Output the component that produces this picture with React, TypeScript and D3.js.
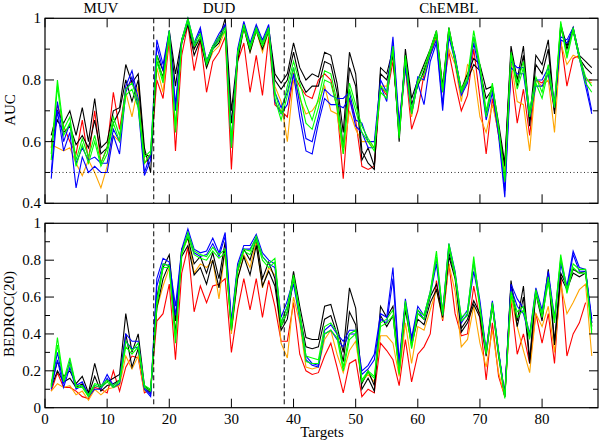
import React from 'react';
import * as d3 from 'd3';

// Target indices (x categories)
const targets = d3.range(1, 89);

// ---- AUC (top panel) ----
const aucBlackA = [0.62,0.70,0.66,0.70,0.62,0.71,0.60,0.74,0.58,0.60,0.70,0.71,0.85,0.79,0.82,0.58,0.50,
0.88,0.83,0.96,0.82,0.93,0.99,0.90,0.94,0.86,0.91,0.93,1.00,0.70,0.88,0.98,0.90,0.97,0.92,0.97,0.82,0.79,
0.82,0.92,0.84,0.80,0.82,0.81,0.89,0.88,0.79,0.63,0.89,0.82,0.57,0.53,0.51,0.84,0.82,0.90,0.60,0.90,0.74,0.80,
0.85,0.90,0.96,0.78,0.97,0.87,0.77,0.82,0.87,0.85,0.77,0.78,0.66,0.53,0.91,0.80,0.91,0.67,0.88,0.85,0.93,0.70,0.98,0.91,0.97,0.88,0.86,0.84];
const aucBlackB = [0.60,0.67,0.63,0.65,0.59,0.62,0.58,0.67,0.56,0.58,0.66,0.70,0.80,0.73,0.80,0.56,0.55,
0.86,0.81,0.95,0.78,0.92,0.98,0.88,0.93,0.84,0.90,0.92,0.98,0.66,0.86,0.97,0.89,0.96,0.90,0.96,0.80,0.77,
0.80,0.89,0.80,0.76,0.78,0.78,0.86,0.85,0.76,0.58,0.84,0.78,0.54,0.58,0.52,0.82,0.80,0.88,0.62,0.88,0.72,0.78,
0.83,0.89,0.95,0.77,0.96,0.86,0.76,0.80,0.85,0.83,0.74,0.77,0.64,0.52,0.89,0.78,0.88,0.65,0.85,0.82,0.90,0.69,0.97,0.90,0.96,0.87,0.84,0.82];
const aucBlueA = [0.50,0.73,0.60,0.66,0.53,0.58,0.54,0.55,0.53,0.53,0.64,0.60,0.78,0.83,0.74,0.50,0.56,
0.93,0.85,0.96,0.72,0.93,1.00,0.92,0.97,0.86,0.91,0.95,0.98,0.60,0.90,0.99,0.92,0.98,0.93,0.98,0.76,0.71,
0.76,0.84,0.72,0.61,0.60,0.68,0.77,0.75,0.74,0.74,0.76,0.67,0.66,0.60,0.60,0.80,0.76,0.94,0.66,0.86,0.70,0.81,
0.80,0.88,0.93,0.72,0.95,0.88,0.76,0.80,0.94,0.84,0.69,0.78,0.64,0.44,0.86,0.84,0.84,0.70,0.80,0.80,0.84,0.73,0.94,0.93,0.97,0.88,0.80,0.70];
const aucBlueB = [0.48,0.70,0.57,0.63,0.45,0.55,0.50,0.52,0.50,0.50,0.62,0.56,0.76,0.81,0.71,0.49,0.54,
0.91,0.83,0.95,0.70,0.92,0.99,0.91,0.96,0.85,0.90,0.94,0.97,0.58,0.89,0.98,0.91,0.97,0.92,0.97,0.73,0.69,
0.72,0.82,0.68,0.57,0.56,0.66,0.74,0.72,0.72,0.71,0.74,0.65,0.63,0.58,0.58,0.78,0.73,0.92,0.64,0.84,0.69,0.79,
0.72,0.86,0.92,0.70,0.94,0.86,0.75,0.79,0.92,0.82,0.67,0.76,0.62,0.42,0.84,0.82,0.82,0.68,0.78,0.78,0.82,0.71,0.93,0.92,0.96,0.87,0.78,0.69];
const aucGreenA = [0.56,0.80,0.64,0.68,0.54,0.61,0.55,0.62,0.53,0.58,0.68,0.62,0.77,0.79,0.73,0.55,0.57,
0.88,0.80,0.96,0.65,0.93,1.00,0.92,0.95,0.86,0.91,0.94,0.97,0.60,0.89,0.98,0.91,0.97,0.92,0.97,0.76,0.69,
0.78,0.86,0.79,0.72,0.67,0.74,0.83,0.82,0.73,0.58,0.79,0.72,0.65,0.61,0.58,0.78,0.76,0.91,0.62,0.88,0.70,0.80,
0.84,0.90,0.96,0.77,0.97,0.87,0.77,0.81,0.96,0.85,0.70,0.79,0.65,0.48,0.89,0.79,0.86,0.70,0.81,0.76,0.85,0.72,0.99,0.88,0.97,0.88,0.81,0.78];
const aucGreenB = [0.54,0.78,0.62,0.66,0.52,0.59,0.53,0.60,0.52,0.56,0.66,0.60,0.75,0.77,0.71,0.53,0.56,
0.86,0.79,0.95,0.63,0.92,0.99,0.91,0.94,0.85,0.90,0.93,0.96,0.58,0.88,0.97,0.90,0.96,0.91,0.96,0.74,0.67,
0.75,0.84,0.75,0.66,0.64,0.71,0.80,0.79,0.71,0.56,0.77,0.70,0.63,0.60,0.57,0.76,0.74,0.90,0.61,0.87,0.69,0.79,
0.82,0.89,0.95,0.76,0.96,0.86,0.76,0.80,0.94,0.84,0.68,0.78,0.64,0.47,0.88,0.77,0.84,0.68,0.79,0.74,0.83,0.71,0.98,0.87,0.96,0.87,0.79,0.76];
const aucOrange = [0.59,0.58,0.57,0.58,0.53,0.49,0.54,0.50,0.45,0.52,0.62,0.60,0.76,0.68,0.78,0.53,0.56,
0.84,0.76,0.95,0.64,0.92,0.99,0.90,0.94,0.84,0.89,0.91,0.96,0.58,0.87,0.97,0.89,0.96,0.89,0.96,0.78,0.73,
0.60,0.80,0.74,0.69,0.70,0.73,0.78,0.70,0.69,0.56,0.70,0.64,0.60,0.60,0.58,0.78,0.78,0.88,0.63,0.84,0.68,0.80,
0.80,0.89,0.94,0.77,0.90,0.85,0.73,0.85,0.83,0.68,0.63,0.72,0.63,0.50,0.86,0.73,0.72,0.57,0.80,0.78,0.80,0.63,0.92,0.85,0.88,0.87,0.80,0.79];
const aucRed = [0.58,0.72,0.65,0.60,0.56,0.67,0.54,0.70,0.53,0.58,0.76,0.64,0.77,0.80,0.73,0.53,0.55,
0.80,0.74,0.93,0.57,0.88,0.98,0.83,0.93,0.76,0.86,0.89,0.94,0.51,0.86,0.92,0.76,0.88,0.75,0.94,0.72,0.70,
0.68,0.82,0.78,0.75,0.74,0.80,0.82,0.80,0.71,0.48,0.74,0.67,0.52,0.51,0.52,0.78,0.75,0.86,0.66,0.84,0.64,0.70,
0.82,0.88,0.94,0.76,0.89,0.79,0.70,0.75,0.90,0.74,0.56,0.74,0.62,0.50,0.83,0.66,0.77,0.62,0.80,0.79,0.82,0.70,0.93,0.78,0.87,0.88,0.80,0.80];

// ---- BEDROC(20) (bottom panel) ----
const bedBlackA = [0.13,0.25,0.17,0.20,0.13,0.17,0.08,0.24,0.11,0.14,0.16,0.18,0.51,0.30,0.40,0.12,0.09,
0.60,0.76,0.83,0.47,0.86,0.92,0.78,0.82,0.73,0.84,0.70,0.90,0.45,0.74,0.86,0.80,0.92,0.70,0.79,0.70,0.44,
0.52,0.74,0.55,0.38,0.37,0.37,0.55,0.56,0.44,0.30,0.65,0.54,0.13,0.20,0.12,0.55,0.49,0.55,0.22,0.57,0.37,0.51,
0.48,0.60,0.67,0.51,0.84,0.72,0.43,0.48,0.58,0.51,0.30,0.57,0.30,0.07,0.69,0.47,0.66,0.26,0.64,0.49,0.75,0.36,0.73,0.66,0.75,0.73,0.74,0.46];
const bedBlackB = [0.11,0.20,0.14,0.16,0.11,0.13,0.07,0.17,0.09,0.12,0.13,0.15,0.40,0.22,0.32,0.11,0.08,
0.54,0.70,0.78,0.40,0.82,0.88,0.72,0.76,0.67,0.80,0.65,0.86,0.42,0.70,0.82,0.72,0.88,0.66,0.74,0.66,0.42,
0.48,0.70,0.50,0.33,0.32,0.33,0.48,0.50,0.40,0.25,0.52,0.45,0.10,0.16,0.09,0.50,0.44,0.50,0.20,0.53,0.34,0.48,
0.45,0.57,0.64,0.49,0.82,0.70,0.41,0.46,0.56,0.49,0.28,0.55,0.28,0.06,0.67,0.44,0.60,0.24,0.62,0.47,0.72,0.34,0.71,0.64,0.73,0.71,0.73,0.44];
const bedBlueA = [0.12,0.30,0.13,0.25,0.12,0.14,0.07,0.12,0.11,0.18,0.12,0.15,0.40,0.36,0.36,0.11,0.07,
0.70,0.81,0.79,0.55,0.86,0.97,0.86,0.84,0.85,0.92,0.84,0.95,0.47,0.78,0.88,0.88,0.94,0.84,0.80,0.78,0.49,
0.58,0.70,0.51,0.28,0.24,0.23,0.42,0.45,0.40,0.36,0.42,0.42,0.20,0.23,0.29,0.51,0.49,0.76,0.25,0.59,0.38,0.55,
0.50,0.63,0.81,0.52,0.89,0.74,0.48,0.53,0.79,0.58,0.31,0.58,0.31,0.07,0.67,0.59,0.54,0.40,0.65,0.53,0.74,0.49,0.80,0.66,0.85,0.76,0.75,0.48];
const bedBlueB = [0.10,0.26,0.11,0.22,0.10,0.12,0.06,0.10,0.10,0.16,0.11,0.13,0.36,0.32,0.33,0.10,0.06,
0.66,0.78,0.77,0.50,0.84,0.95,0.84,0.82,0.83,0.89,0.82,0.93,0.45,0.76,0.86,0.86,0.92,0.82,0.78,0.76,0.46,
0.55,0.67,0.48,0.26,0.23,0.22,0.40,0.42,0.37,0.33,0.40,0.40,0.18,0.21,0.26,0.48,0.46,0.70,0.23,0.56,0.36,0.53,
0.48,0.61,0.78,0.50,0.87,0.72,0.46,0.51,0.74,0.56,0.30,0.56,0.30,0.06,0.65,0.55,0.51,0.38,0.63,0.51,0.72,0.47,0.78,0.64,0.83,0.74,0.74,0.46];
const bedGreenA = [0.12,0.38,0.15,0.27,0.12,0.12,0.07,0.13,0.12,0.15,0.12,0.15,0.36,0.31,0.35,0.12,0.10,
0.58,0.78,0.77,0.38,0.84,0.95,0.85,0.83,0.82,0.87,0.83,0.86,0.44,0.76,0.86,0.85,0.93,0.82,0.78,0.81,0.46,
0.55,0.72,0.52,0.28,0.27,0.26,0.44,0.46,0.41,0.22,0.40,0.42,0.15,0.20,0.17,0.46,0.48,0.53,0.19,0.58,0.33,0.53,
0.50,0.63,0.85,0.51,0.89,0.73,0.49,0.52,0.82,0.55,0.30,0.57,0.30,0.06,0.63,0.52,0.55,0.39,0.64,0.51,0.71,0.48,0.83,0.64,0.78,0.75,0.75,0.42];
const bedGreenB = [0.11,0.34,0.14,0.24,0.11,0.11,0.06,0.12,0.11,0.14,0.11,0.14,0.33,0.29,0.33,0.11,0.09,
0.55,0.76,0.76,0.35,0.83,0.93,0.83,0.81,0.80,0.85,0.81,0.84,0.42,0.74,0.85,0.83,0.91,0.80,0.76,0.79,0.44,
0.52,0.70,0.49,0.25,0.24,0.24,0.40,0.42,0.38,0.20,0.37,0.40,0.14,0.19,0.16,0.44,0.46,0.50,0.18,0.56,0.32,0.51,
0.48,0.61,0.82,0.50,0.87,0.71,0.47,0.50,0.79,0.53,0.29,0.55,0.29,0.05,0.61,0.49,0.53,0.37,0.62,0.49,0.68,0.46,0.81,0.62,0.76,0.73,0.73,0.40];
const bedOrange = [0.09,0.13,0.11,0.12,0.07,0.09,0.04,0.10,0.07,0.10,0.11,0.12,0.28,0.21,0.28,0.09,0.09,
0.54,0.66,0.76,0.40,0.84,0.92,0.73,0.78,0.76,0.80,0.59,0.86,0.40,0.70,0.83,0.76,0.90,0.65,0.76,0.72,0.35,
0.27,0.60,0.46,0.22,0.21,0.22,0.37,0.42,0.29,0.19,0.31,0.36,0.14,0.18,0.14,0.39,0.39,0.35,0.17,0.46,0.24,0.44,
0.42,0.53,0.64,0.48,0.78,0.63,0.33,0.37,0.55,0.35,0.22,0.42,0.19,0.06,0.60,0.44,0.31,0.19,0.51,0.44,0.55,0.30,0.67,0.51,0.57,0.64,0.67,0.28];
const bedRed = [0.09,0.19,0.11,0.11,0.09,0.06,0.05,0.11,0.10,0.08,0.20,0.09,0.22,0.28,0.27,0.08,0.10,
0.47,0.51,0.67,0.26,0.73,0.87,0.52,0.66,0.57,0.66,0.67,0.70,0.30,0.53,0.70,0.53,0.70,0.49,0.69,0.55,0.36,
0.36,0.57,0.29,0.20,0.18,0.19,0.28,0.35,0.22,0.08,0.24,0.26,0.06,0.10,0.08,0.35,0.31,0.26,0.12,0.37,0.14,0.29,
0.33,0.40,0.69,0.47,0.78,0.51,0.39,0.40,0.66,0.48,0.15,0.46,0.17,0.06,0.58,0.29,0.40,0.24,0.51,0.35,0.51,0.24,0.72,0.28,0.40,0.46,0.57,null];

const yTicksTop = [0.4, 0.6, 0.8, 1];
const yMinorTop = [0.5, 0.7, 0.9];
const yTicksBot = [0, 0.2, 0.4, 0.6, 0.8, 1];
const yMinorBot = [0.1, 0.3, 0.5, 0.7, 0.9];
const xTicks = [0, 10, 20, 30, 40, 50, 60, 70, 80];
const dividers = [17.5, 38.5];
const sections = [
  { label: 'MUV', at: 9 },
  { label: 'DUD', at: 28 },
  { label: 'ChEMBL', at: 65 },
];

const BLACK = '#000000', BLUE = '#0000ff', GREEN = '#00ff00', ORANGE = '#ffa500', RED = '#ff0000';

const topSeries = [
  { v: aucRed, c: RED }, { v: aucOrange, c: ORANGE },
  { v: aucBlackA, c: BLACK }, { v: aucBlackB, c: BLACK },
  { v: aucBlueA, c: BLUE }, { v: aucBlueB, c: BLUE },
  { v: aucGreenA, c: GREEN }, { v: aucGreenB, c: GREEN },
];
const botSeries = [
  { v: bedRed, c: RED }, { v: bedOrange, c: ORANGE },
  { v: bedBlackA, c: BLACK }, { v: bedBlackB, c: BLACK },
  { v: bedBlueA, c: BLUE }, { v: bedBlueB, c: BLUE },
  { v: bedGreenA, c: GREEN }, { v: bedGreenB, c: GREEN },
];

const FONT = "'Liberation Serif', 'Times New Roman', Times, serif";
const L = 45, R = 598;
const txt = { fontFamily: FONT, fontSize: 15, fill: '#000' };

function fmt(v: number) {
  return v === 0 ? '0' : v === 1 ? '1' : String(v);
}

function Panel({ y0, y1, domain, series, major, minor, showX, refLine }: any) {
  const x = d3.scaleLinear().domain([0, 89]).range([L, R]);
  const y = d3.scaleLinear().domain(domain).range([y1, y0]);
  const line = d3.line<any>()
    .defined((d) => d[1] !== null && d[1] !== undefined)
    .x((d) => x(d[0]))
    .y((d) => y(d[1]));
  return (
    <g>
      {series.map((s: any, k: number) => (
        <path key={k} d={line(targets.map((t, i) => [t, s.v[i]])) || ''}
          fill="none" stroke={s.c} strokeWidth={1.1} strokeLinejoin="miter" />
      ))}
      {refLine !== undefined && (
        <line x1={L} x2={R} y1={y(refLine)} y2={y(refLine)} stroke="#000" strokeWidth={0.8} strokeDasharray="1,2.5" />
      )}
      {dividers.map((d) => (
        <line key={d} x1={x(d)} x2={x(d)} y1={y0} y2={y1} stroke="#000" strokeWidth={1} strokeDasharray="5,3" />
      ))}
      <rect x={L} y={y0} width={R - L} height={y1 - y0} fill="none" stroke="#000" strokeWidth={1.2} />
      {xTicks.map((t) => (
        <g key={t}>
          <line x1={x(t)} x2={x(t)} y1={y1} y2={y1 - 9} stroke="#000" strokeWidth={1} />
          <line x1={x(t)} x2={x(t)} y1={y0} y2={y0 + 9} stroke="#000" strokeWidth={1} />
          {showX && (
            <text x={x(t)} y={y1 + 16} textAnchor="middle" style={txt}>{t}</text>
          )}
        </g>
      ))}
      {major.map((t: number) => (
        <g key={t}>
          <line x1={L} x2={L + 9} y1={y(t)} y2={y(t)} stroke="#000" strokeWidth={1} />
          <line x1={R} x2={R - 9} y1={y(t)} y2={y(t)} stroke="#000" strokeWidth={1} />
          <text x={L - 4} y={y(t) + 5} textAnchor="end" style={txt}>{fmt(t)}</text>
        </g>
      ))}
      {minor.map((t: number) => (
        <g key={t}>
          <line x1={L} x2={L + 5} y1={y(t)} y2={y(t)} stroke="#000" strokeWidth={1} />
          <line x1={R} x2={R - 5} y1={y(t)} y2={y(t)} stroke="#000" strokeWidth={1} />
        </g>
      ))}
    </g>
  );
}

export default function App() {
  const x = d3.scaleLinear().domain([0, 89]).range([L, R]);
  return (
    <svg width={600} height={445} style={{ position: 'absolute', left: 0, top: 0, background: '#fff', fontFamily: FONT }}>
      <rect width={600} height={445} fill="#fff" />
      <Panel y0={18.3} y1={203.3} domain={[0.4, 1]} series={topSeries} major={yTicksTop} minor={yMinorTop} showX={false} refLine={0.5} />
      <Panel y0={223.3} y1={407.7} domain={[0, 1]} series={botSeries} major={yTicksBot} minor={yMinorBot} showX={true} />
      {sections.map((s) => (
        <text key={s.label} x={x(s.at)} y={13} textAnchor="middle" style={txt}>{s.label}</text>
      ))}
      <text transform="translate(15,110) rotate(-90)" textAnchor="middle" style={txt}>AUC</text>
      <text transform="translate(14,314) rotate(-90)" textAnchor="middle" style={txt}>BEDROC(20)</text>
      <text x={322} y={437} textAnchor="middle" style={txt}>Targets</text>
    </svg>
  );
}
